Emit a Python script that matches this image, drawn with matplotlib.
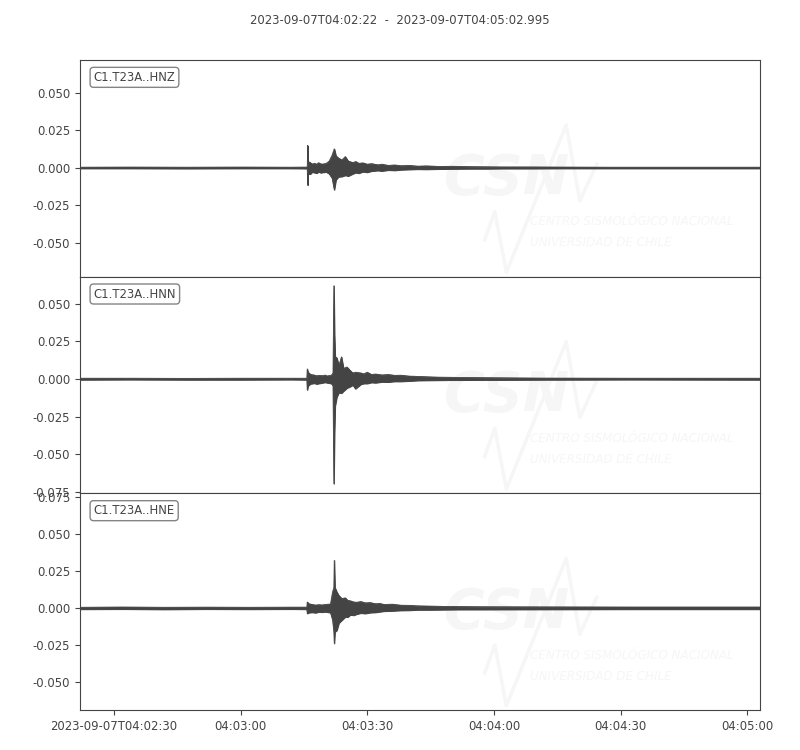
import datetime as dt
import matplotlib
matplotlib.use("Agg")
import matplotlib.pyplot as plt
from matplotlib.ticker import MultipleLocator

# --- data (seconds after 04:02:22, envelope top / bottom) ---
start = dt.datetime(2023, 9, 7, 4, 2, 22)
duration = 160.995
title = "2023-09-07T04:02:22  -  2023-09-07T04:05:02.995"

labels = ["C1.T23A..HNZ", "C1.T23A..HNN", "C1.T23A..HNE"]

hnz_t = [0, 12, 25, 38, 50, 53.8, 53.9, 54.0, 54.5, 55.0, 55.5, 56.0, 56.5, 57.0, 57.5,
         58.3, 59.0, 59.7, 60.2, 60.6, 61.2, 62.0, 62.8, 63.5, 64.6, 65.3, 66, 67, 68, 69,
         70.5, 71.5, 73, 74.5, 76, 78, 80, 82, 85, 88, 92, 96, 100, 107, 114, 125, 140,
         160.995]
hnz_up = [0.0004, 0.0005, 0.0004, 0.0005, 0.0004, 0.0005, 0.0149, 0.0042, 0.0035, 0.0025,
          0.0030, 0.0024, 0.0034, 0.0026, 0.0025, 0.0030, 0.0045, 0.0085, 0.0127, 0.0080,
          0.0065, 0.0052, 0.0075, 0.0045, 0.0035, 0.0042, 0.0030, 0.0033, 0.0024, 0.0028,
          0.0020, 0.0024, 0.0016, 0.0019, 0.0014, 0.0016, 0.0011, 0.0013, 0.0009, 0.0010,
          0.0008, 0.0007, 0.0006, 0.0006, 0.0005, 0.0004, 0.0004, 0.0004]
hnz_lo = [-0.0004, -0.0004, -0.0005, -0.0004, -0.0004, -0.0005, -0.0115, -0.0040, -0.0042,
          -0.0028, -0.0032, -0.0036, -0.0027, -0.0033, -0.0030, -0.0028, -0.0040, -0.0070,
          -0.0147, -0.0080, -0.0060, -0.0058, -0.0050, -0.0055, -0.0040, -0.0032, -0.0036,
          -0.0026, -0.0030, -0.0022, -0.0018, -0.0021, -0.0015, -0.0017, -0.0013, -0.0011,
          -0.0009, -0.0010, -0.0008, -0.0007, -0.0006, -0.0006, -0.0005, -0.0005, -0.0004,
          -0.0004, -0.0004, -0.0004]

hnn_t = [0, 12, 25, 38, 50, 53.7, 53.8, 54.0, 54.6, 55.5, 56.0, 56.5, 57.5, 58.0, 58.5,
         59.5, 59.9, 60.1, 60.25, 60.4, 60.8, 61.3, 61.9, 62.4, 63.2, 64.0, 64.6, 65.2,
         66.5, 67.2, 68.0, 69, 70, 71.5, 73, 74.5, 76, 78, 80, 82, 85, 88, 90, 95, 100,
         110, 130, 160.995]
hnn_up = [0.0005, 0.0005, 0.0004, 0.0005, 0.0005, 0.0005, 0.0067, 0.0045, 0.0030, 0.0026,
          0.0021, 0.0024, 0.0022, 0.0026, 0.0020, 0.0025, 0.0040, 0.0620, 0.0300, 0.0150,
          0.0140, 0.0090, 0.0147, 0.0070, 0.0080, 0.0055, 0.0040, 0.0045, 0.0040, 0.0034,
          0.0045, 0.0030, 0.0033, 0.0027, 0.0030, 0.0024, 0.0025, 0.0019, 0.0017, 0.0015,
          0.0012, 0.0011, 0.0010, 0.0009, 0.0008, 0.0006, 0.0005, 0.0005]
hnn_lo = [-0.0005, -0.0004, -0.0005, -0.0005, -0.0004, -0.0005, -0.0073, -0.0045, -0.0032,
          -0.0028, -0.0033, -0.0030, -0.0025, -0.0022, -0.0025, -0.0030, -0.0045, -0.0696,
          -0.0360, -0.0180, -0.0120, -0.0090, -0.0094, -0.0080, -0.0060, -0.0050, -0.0040,
          -0.0065, -0.0035, -0.0030, -0.0030, -0.0023, -0.0025, -0.0019, -0.0020, -0.0016,
          -0.0016, -0.0013, -0.0010, -0.0009, -0.0008, -0.0007, -0.0007, -0.0006, -0.0006,
          -0.0005, -0.0004, -0.0005]

hne_t = [0, 10, 20, 30, 40, 50, 53.7, 53.8, 54.2, 55, 55.8, 56.5, 57.3, 58, 59.3, 59.8,
         60.1, 60.2, 60.35, 60.8, 61.3, 62, 62.8, 63.4, 64, 64.8, 65.5, 66.5, 67.5, 68.7,
         70, 71, 72, 74, 76, 78, 80, 83, 86, 90, 95, 110, 130, 150, 160.995]
hne_up = [0.0006, 0.0008, 0.0006, 0.0007, 0.0006, 0.0007, 0.0007, 0.0042, 0.0030, 0.0025,
          0.0021, 0.0024, 0.0022, 0.0025, 0.0028, 0.0110, 0.0140, 0.0324, 0.0140, 0.0110,
          0.0085, 0.0065, 0.0070, 0.0052, 0.0050, 0.0042, 0.0040, 0.0045, 0.0036, 0.0038,
          0.0030, 0.0032, 0.0025, 0.0027, 0.0020, 0.0019, 0.0016, 0.0014, 0.0012, 0.0011,
          0.0010, 0.0009, 0.0008, 0.0008, 0.0008]
hne_lo = [-0.0007, -0.0006, -0.0008, -0.0006, -0.0007, -0.0006, -0.0007, -0.0036, -0.0030,
          -0.0028, -0.0031, -0.0025, -0.0027, -0.0024, -0.0030, -0.0080, -0.0160, -0.0239,
          -0.0160, -0.0150, -0.0100, -0.0081, -0.0059, -0.0060, -0.0045, -0.0048, -0.0040,
          -0.0033, -0.0036, -0.0030, -0.0028, -0.0024, -0.0020, -0.0018, -0.0015, -0.0014,
          -0.0011, -0.0011, -0.0010, -0.0009, -0.0009, -0.0008, -0.0007, -0.0007, -0.0007]

ylims = [(-0.0727, 0.0720), (-0.0760, 0.0680), (-0.0689, 0.0777)]

tick_secs = [8, 38, 68, 98, 128, 158]
tick_labels = ["2023-09-07T04:02:30", "04:03:00", "04:03:30", "04:04:00", "04:04:30", "04:05:00"]

traces = [(hnz_t, hnz_up, hnz_lo), (hnn_t, hnn_up, hnn_lo), (hne_t, hne_up, hne_lo)]

col = "#444444"
wm = "#f6f6f6"
fs = 8.4

def to_time(secs):
    return [start + dt.timedelta(seconds=s) for s in secs]

fig, axes = plt.subplots(3, 1, figsize=(8, 7.5), dpi=100, sharex=True)
fig.subplots_adjust(left=0.1, right=0.95, top=0.92, bottom=0.0533, hspace=0)

for i, ax in enumerate(axes):
    t, up, lo = traces[i]
    # faint CSN watermark
    ax.text(0.627, 0.45, "CSN", transform=ax.transAxes, ha="center", va="center",
            fontsize=40, fontweight="bold", fontstyle="italic", color=wm, zorder=0,
            clip_on=True)
    ax.plot([0.595, 0.61, 0.627, 0.715, 0.735, 0.76], [0.17, 0.30, 0.02, 0.70, 0.35, 0.52],
            transform=ax.transAxes, color=wm, lw=2.5, zorder=0)
    ax.text(0.662, 0.253, "CENTRO SISMOLÓGICO NACIONAL", transform=ax.transAxes,
            ha="left", va="center", fontsize=9.5, fontstyle="italic", color=wm, zorder=0,
            fontstretch="condensed", clip_on=True)
    ax.text(0.662, 0.157, "UNIVERSIDAD DE CHILE", transform=ax.transAxes,
            ha="left", va="center", fontsize=9.5, fontstyle="italic", color=wm, zorder=0,
            fontstretch="condensed", clip_on=True)

    x = to_time(t)
    ax.fill_between(x, lo, up, color=col, lw=0.7, zorder=2)
    ax.plot(x, up, color=col, lw=0.6, zorder=2)
    ax.plot(x, lo, color=col, lw=0.6, zorder=2)

    ax.set_ylim(*ylims[i])
    ax.yaxis.set_major_locator(MultipleLocator(0.025))
    ax.yaxis.set_major_formatter(plt.FormatStrFormatter("%.3f"))
    ax.tick_params(axis="y", labelsize=fs, colors=col)
    ax.tick_params(axis="x", labelsize=fs, colors=col)
    for s in ax.spines.values():
        s.set_color(col)
    ax.text(0.02, 0.95, labels[i], transform=ax.transAxes, ha="left", va="top",
            fontsize=fs, color=col, zorder=5,
            bbox=dict(boxstyle="round", fc="w", ec="#777777", alpha=0.9))
    if i < 2:
        ax.tick_params(axis="x", bottom=False, labelbottom=False)

axes[-1].set_xlim(start, start + dt.timedelta(seconds=duration))
axes[-1].set_xticks(to_time(tick_secs))
axes[-1].set_xticklabels(tick_labels)

fig.suptitle(title, y=0.973, fontsize=fs, color=col, va="center")

fig.savefig("out.png", dpi=100)
